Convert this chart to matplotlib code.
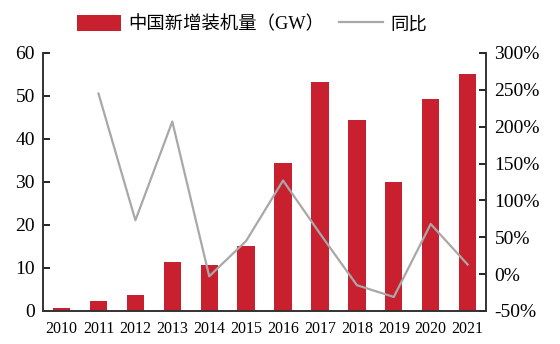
import matplotlib.pyplot as plt
import matplotlib.ticker as mticker
import numpy as np

plt.rcParams['font.family'] = ['Liberation Serif', 'Noto Sans CJK SC', 'DejaVu Sans']

# --- Data ---
years = ['2010', '2011', '2012', '2013', '2014', '2015',
         '2016', '2017', '2018', '2019', '2020', '2021']
new_capacity = [0.7, 2.3, 3.7, 11.3, 10.8, 15.2, 34.5, 53.2, 44.4, 30.0, 49.4, 55.0]  # GW
yoy = [np.nan, 245, 73, 207, -3, 45, 127, 55, -15, -31, 68, 13]  # %

bar_color = '#C8202F'
line_color = '#A8A8A8'

fig = plt.figure(figsize=(5.6, 3.44), dpi=100)
ax = fig.add_axes([0.077, 0.096, 0.791, 0.75])
ax2 = ax.twinx()

x = np.arange(len(years))
bars = ax.bar(x, new_capacity, width=0.47, color=bar_color, label='中国新增装机量（GW）', zorder=2)
line, = ax2.plot(x, yoy, color=line_color, linewidth=1.6, label='同比', zorder=3)

ax.set_xlim(-0.5, len(years) - 0.5)
ax.set_ylim(0, 60)
ax.set_yticks(np.arange(0, 61, 10))
ax2.set_ylim(-50, 300)
ax2.set_yticks(np.arange(-50, 301, 50))
ax2.yaxis.set_major_formatter(mticker.FuncFormatter(lambda v, p: f'{int(v)}%'))

ax.set_xticks(x)
ax.set_xticklabels(years, fontsize=11.5)
ax.tick_params(axis='x', length=0, pad=7)
ax.tick_params(axis='y', direction='in', length=5, width=1.2, labelsize=14, pad=6)
ax2.tick_params(axis='y', direction='in', length=5, width=1.2, labelsize=14, pad=6)

for a in (ax, ax2):
    a.spines['top'].set_visible(False)
    for s in ('left', 'right', 'bottom'):
        a.spines[s].set_color('#333333')
        a.spines[s].set_linewidth(1.2)

# put the bars behind the line
ax2.set_zorder(ax.get_zorder() + 1)
ax2.patch.set_visible(False)

fig.legend([bars, line], ['中国新增装机量（GW）', '同比'],
           loc='center', bbox_to_anchor=(0.45, 0.93), ncol=2, frameon=False,
           fontsize=13.2, handlelength=2.4, handleheight=0.95, columnspacing=0.8,
           handletextpad=0.4)

fig.savefig('out.png', dpi=100)
